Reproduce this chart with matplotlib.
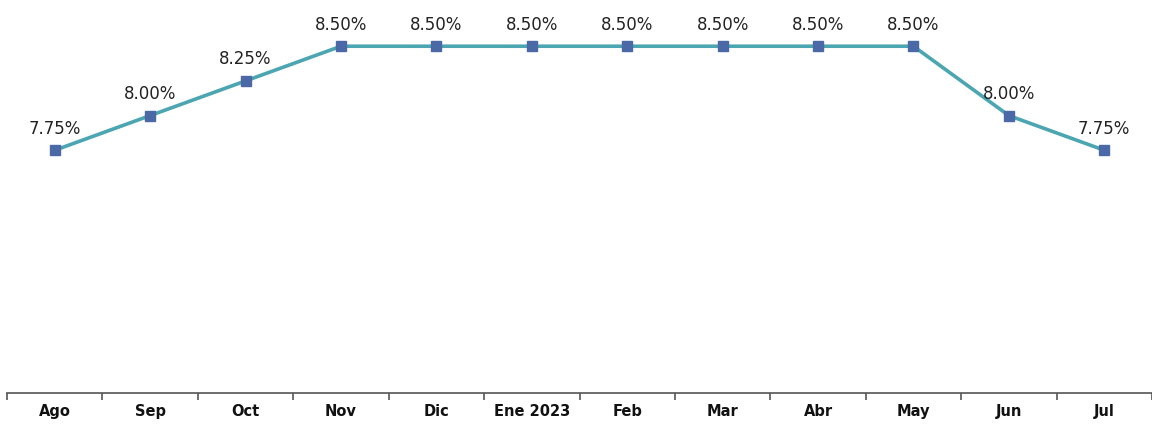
import matplotlib
matplotlib.use("Agg")
import matplotlib.pyplot as plt
import numpy as np

categories = ["Ago", "Sep", "Oct", "Nov", "Dic", "Ene 2023", "Feb", "Mar", "Abr", "May", "Jun", "Jul"]
values = [7.75, 8.00, 8.25, 8.50, 8.50, 8.50, 8.50, 8.50, 8.50, 8.50, 8.00, 7.75]
labels = [f"{v:.2f}%" for v in values]

fig = plt.figure(figsize=(11.52, 4.24), dpi=100)
ax = fig.add_axes([7/1152, 31/424, 1145/1152, 393/424])

x = np.arange(len(categories))
ax.plot(x, values, color="#4BA6B1", linewidth=2.6, marker="s", markersize=7.5,
        markerfacecolor="#4A69A6", markeredgecolor="#4A69A6", zorder=3)
for xi, v, lab in zip(x, values, labels):
    ax.annotate(lab, (xi, v), xytext=(0, 9), textcoords="offset points",
                ha="center", va="bottom", fontsize=12, color="#222222")

ax.set_xlim(-0.5, len(categories) - 0.5)
ax.set_ylim(6.0, 8.8333)
ax.set_xticks(x)
ax.set_xticklabels(categories, fontsize=10.5, fontweight="bold", color="#111111")
ax.set_xticks(np.arange(-0.5, len(categories), 1), minor=True)
ax.tick_params(axis="x", which="major", length=0, pad=8)
ax.tick_params(axis="x", which="minor", length=5, width=1.2, color="#555555")
ax.set_yticks([])
for s in ["top", "right", "left"]:
    ax.spines[s].set_visible(False)
ax.spines["bottom"].set_color("#555555")
ax.spines["bottom"].set_linewidth(1.2)
ax.patch.set_alpha(0)

fig.savefig("out.png", dpi=100)
